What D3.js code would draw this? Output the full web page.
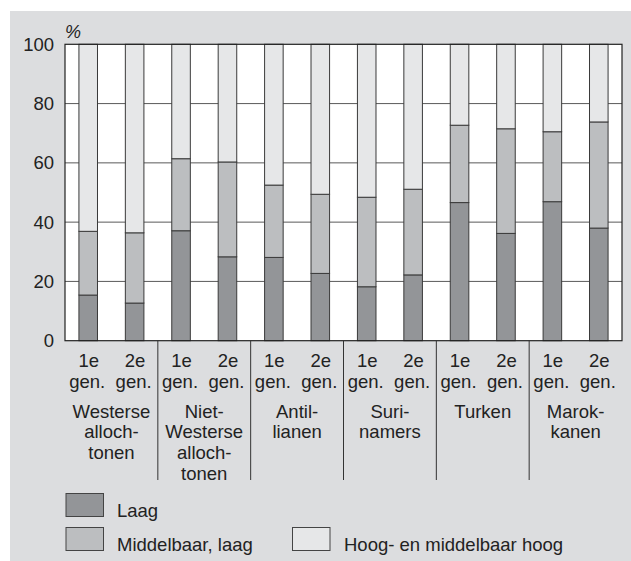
<!DOCTYPE html>
<html>
<head>
<meta charset="utf-8">
<script src="https://cdn.jsdelivr.net/npm/d3@7"></script>
<style>
    body { margin: 0; background: #fff; }
    svg { display: block; font-family: "Liberation Sans", Arial, sans-serif; }
</style>
</head>
<body>
<div id="chart"></div>
<script>
// groepen en generaties
const groups = [
    ["Westerse", "alloch-", "tonen"],
    ["Niet-", "Westerse", "alloch-", "tonen"],
    ["Antil-", "lianen"],
    ["Suri-", "namers"],
    ["Turken"],
    ["Marok-", "kanen"]
];
const generations = ["1e", "2e"];

// percentages per staaf (1e gen, 2e gen per groep)
const laag = [15.4, 12.7, 37.1, 28.3, 28.1, 22.7, 18.2, 22.2, 46.6, 36.2, 46.9, 38.0];
const middelbaarLaag = [21.5, 23.7, 24.3, 32.0, 24.4, 26.7, 30.2, 28.9, 26.1, 35.3, 23.6, 35.8];
const hoog = [63.1, 63.6, 38.6, 39.7, 47.5, 50.6, 51.6, 48.9, 27.3, 28.5, 29.5, 26.2];

const seriesKeys = ["laag", "middelbaarLaag", "hoog"];
const seriesNames = ["Laag", "Middelbaar, laag", "Hoog- en middelbaar hoog"];
const yTicks = [0, 20, 40, 60, 80, 100];

const width = 631;
const height = 561;
const plot = { left: 65, right: 622, top: 44.3, bottom: 340.7 };
const fontSize = "18.5px";

const rows = [];
groups.forEach((g, gi) => {
    generations.forEach((gen, k) => {
        const i = gi * 2 + k;
        rows.push({ id: i, group: gi, gen: gen, laag: laag[i], middelbaarLaag: middelbaarLaag[i], hoog: hoog[i] });
    });
});

const svg = d3.select("#chart")
    .append("svg")
    .attr("width", width)
    .attr("height", height);

svg.append("rect")
    .attr("x", 10).attr("y", 11)
    .attr("width", width - 10).attr("height", height - 11)
    .attr("fill", "#dcdddf");

const x = d3.scaleBand()
    .domain(rows.map(d => d.id))
    .range([plot.left, plot.right])
    .paddingInner(0.6)
    .paddingOuter(0.3);

const y = d3.scaleLinear()
    .domain([0, 100])
    .range([plot.bottom, plot.top]);

const color = d3.scaleOrdinal()
    .domain(seriesKeys)
    .range(["#939598", "#bcbec0", "#e6e7e8"]);

// plotvlak
svg.append("rect")
    .attr("x", plot.left).attr("y", plot.top)
    .attr("width", plot.right - plot.left).attr("height", plot.bottom - plot.top)
    .attr("fill", "#fff");

svg.append("g")
    .selectAll("line")
    .data(yTicks.filter(t => t > 0 && t < 100))
    .enter().append("line")
    .attr("x1", plot.left).attr("x2", plot.right)
    .attr("y1", d => y(d)).attr("y2", d => y(d))
    .attr("stroke", "#5a5a5a")
    .attr("stroke-width", 1);

const stacked = d3.stack().keys(seriesKeys)(rows);

svg.append("g")
    .selectAll("g")
    .data(stacked)
    .enter().append("g")
    .attr("fill", d => color(d.key))
    .selectAll("rect")
    .data(d => d)
    .enter().append("rect")
    .attr("x", d => x(d.data.id))
    .attr("y", d => y(d[1]))
    .attr("width", x.bandwidth())
    .attr("height", d => y(d[0]) - y(d[1]))
    .attr("stroke", "#3a3a3a")
    .attr("stroke-width", 1);

svg.append("rect")
    .attr("x", plot.left).attr("y", plot.top)
    .attr("width", plot.right - plot.left).attr("height", plot.bottom - plot.top)
    .attr("fill", "none")
    .attr("stroke", "#222")
    .attr("stroke-width", 1.2);

// y-as
const yAxis = svg.append("g")
    .attr("transform", `translate(${plot.left},0)`)
    .call(d3.axisLeft(y).tickValues(yTicks).tickSize(0).tickPadding(11));
yAxis.select(".domain").remove();
yAxis.selectAll("text")
    .style("font-size", fontSize)
    .style("font-family", "'Liberation Sans', Arial, sans-serif")
    .attr("fill", "#222");

svg.append("text")
    .attr("x", plot.left)
    .attr("y", 37.5)
    .style("font-size", "18px")
    .style("font-style", "italic")
    .attr("fill", "#222")
    .text("%");

// x-labels
const genLabels = svg.append("g")
    .style("font-size", fontSize)
    .attr("fill", "#222")
    .attr("text-anchor", "middle");

rows.forEach(d => {
    const cx = x(d.id) + x.bandwidth() / 2;
    genLabels.append("text")
        .attr("x", cx + 0.5)
        .attr("y", 366.5)
        .text(d.gen);
    genLabels.append("text")
        .attr("x", cx - 1)
        .attr("y", 388)
        .text("gen.");
});

const step = x.step();
const groupLabels = svg.append("g")
    .style("font-size", fontSize)
    .attr("fill", "#222")
    .attr("text-anchor", "middle");

groups.forEach((lines, gi) => {
    const cx = plot.left + (gi * 2 + 1) * step;
    lines.forEach((line, li) => {
        groupLabels.append("text")
            .attr("x", cx)
            .attr("y", 417.5 + li * 20.7)
            .text(line);
    });
});

svg.append("g")
    .selectAll("line")
    .data(d3.range(1, groups.length))
    .enter().append("line")
    .attr("x1", d => plot.left + d * 2 * step)
    .attr("x2", d => plot.left + d * 2 * step)
    .attr("y1", plot.bottom)
    .attr("y2", 480)
    .attr("stroke", "#333")
    .attr("stroke-width", 1);

// legenda
const legendItems = [
    { key: "laag", x: 66, y: 493.5, tx: 117, ty: 516.5 },
    { key: "middelbaarLaag", x: 66, y: 527.5, tx: 117, ty: 551 },
    { key: "hoog", x: 292.5, y: 527.5, tx: 344, ty: 551 }
];

const legend = svg.append("g");
legendItems.forEach((item, i) => {
    legend.append("rect")
        .attr("x", item.x).attr("y", item.y)
        .attr("width", 37.5).attr("height", 23)
        .attr("fill", color(item.key))
        .attr("stroke", "#444")
        .attr("stroke-width", 1);
    legend.append("text")
        .attr("x", item.tx).attr("y", item.ty)
        .style("font-size", fontSize)
        .attr("fill", "#222")
        .text(seriesNames[i]);
});
</script>
</body>
</html>
